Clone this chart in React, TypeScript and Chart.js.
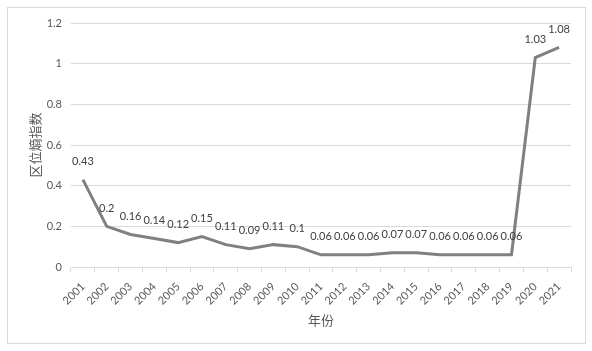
import React, { useEffect, useRef } from "react";
import { Chart, registerables } from "chart.js";

Chart.register(...registerables);

const years = [
  "2001", "2002", "2003", "2004", "2005", "2006", "2007", "2008", "2009", "2010",
  "2011", "2012", "2013", "2014", "2015", "2016", "2017", "2018", "2019", "2020", "2021",
];
const lqValues = [
  0.43, 0.2, 0.16, 0.14, 0.12, 0.15, 0.11, 0.09, 0.11, 0.1,
  0.06, 0.06, 0.06, 0.07, 0.07, 0.06, 0.06, 0.06, 0.06, 1.03, 1.08,
];
const yTickValues = [0, 0.2, 0.4, 0.6, 0.8, 1, 1.2];
const yTitle = "区位熵指数";
const xTitle = "年份";

const frameAndBackground = {
  id: "frameAndBackground",
  beforeDraw(chart: any) {
    const ctx = chart.ctx;
    ctx.save();
    ctx.fillStyle = "#ffffff";
    ctx.fillRect(0, 0, chart.width, chart.height);
    ctx.strokeStyle = "#d9d9d9";
    ctx.lineWidth = 1;
    ctx.strokeRect(7.5, 7.5, 578, 336);
    ctx.restore();
  },
};

const valueLabels = {
  id: "valueLabels",
  afterDatasetsDraw(chart: any) {
    const ctx = chart.ctx;
    const meta = chart.getDatasetMeta(0);
    const data = chart.data.datasets[0].data as number[];
    ctx.save();
    ctx.font = "11px Lato, 'Liberation Sans', sans-serif";
    ctx.fillStyle = "#404040";
    ctx.textAlign = "center";
    ctx.textBaseline = "middle";
    meta.data.forEach((pt: any, i: number) => {
      ctx.fillText(String(data[i]), pt.x, pt.y - 18);
    });
    ctx.restore();
  },
};

export default function App() {
  const canvasRef = useRef<HTMLCanvasElement | null>(null);

  useEffect(() => {
    document.body.style.margin = "0";
    const canvas = canvasRef.current;
    if (!canvas) return;
    const chart = new Chart(canvas, {
      type: "line",
      data: {
        labels: years,
        datasets: [
          {
            data: lqValues,
            borderColor: "#808080",
            borderWidth: 3,
            pointRadius: 0,
            pointHoverRadius: 0,
            tension: 0,
            fill: false,
          },
        ],
      },
      options: {
        responsive: false,
        animation: false,
        devicePixelRatio: 1,
        layout: { padding: { left: 0, top: 23, right: 21, bottom: 0 } },
        plugins: {
          legend: { display: false },
          tooltip: { enabled: false },
        },
        scales: {
          x: {
            type: "category",
            offset: true,
            grid: {
              offset: true,
              drawOnChartArea: false,
              drawTicks: true,
              tickLength: 5,
              color: "#d9d9d9",
            },
            border: { display: true, color: "#d9d9d9", width: 1 },
            ticks: {
              autoSkip: false,
              maxRotation: 45,
              minRotation: 45,
              padding: 8,
              color: "#595959",
              font: { family: "Lato, 'Liberation Sans', sans-serif", size: 11 },
            },
            title: {
              display: true,
              text: xTitle,
              color: "#595959",
              font: { family: "'Noto Sans CJK SC', sans-serif", size: 13 },
              padding: { top: 0, bottom: 23 },
            },
            afterFit(scale: any) {
              scale.height = 84;
            },
          },
          y: {
            min: 0,
            max: 1.2,
            grid: {
              drawTicks: false,
              color: "#d9d9d9",
              lineWidth: 1,
            },
            border: { display: false },
            ticks: {
              padding: 9,
              color: "#595959",
              font: { family: "Lato, 'Liberation Sans', sans-serif", size: 11 },
              callback: (v: any) => String(v),
            },
            afterBuildTicks(scale: any) {
              scale.ticks = yTickValues.map((v) => ({ value: v }));
            },
            title: {
              display: true,
              text: yTitle,
              color: "#595959",
              font: { family: "'Noto Sans CJK SC', sans-serif", size: 13 },
              padding: { top: 27, bottom: 0 },
            },
            afterFit(scale: any) {
              scale.width = 71;
            },
          },
        },
      },
      plugins: [frameAndBackground, valueLabels],
    });
    return () => chart.destroy();
  }, []);

  return (
    <div style={{ width: 592, height: 351 }}>
      <canvas ref={canvasRef} width={592} height={351} style={{ width: 592, height: 351, display: "block" }} />
    </div>
  );
}
